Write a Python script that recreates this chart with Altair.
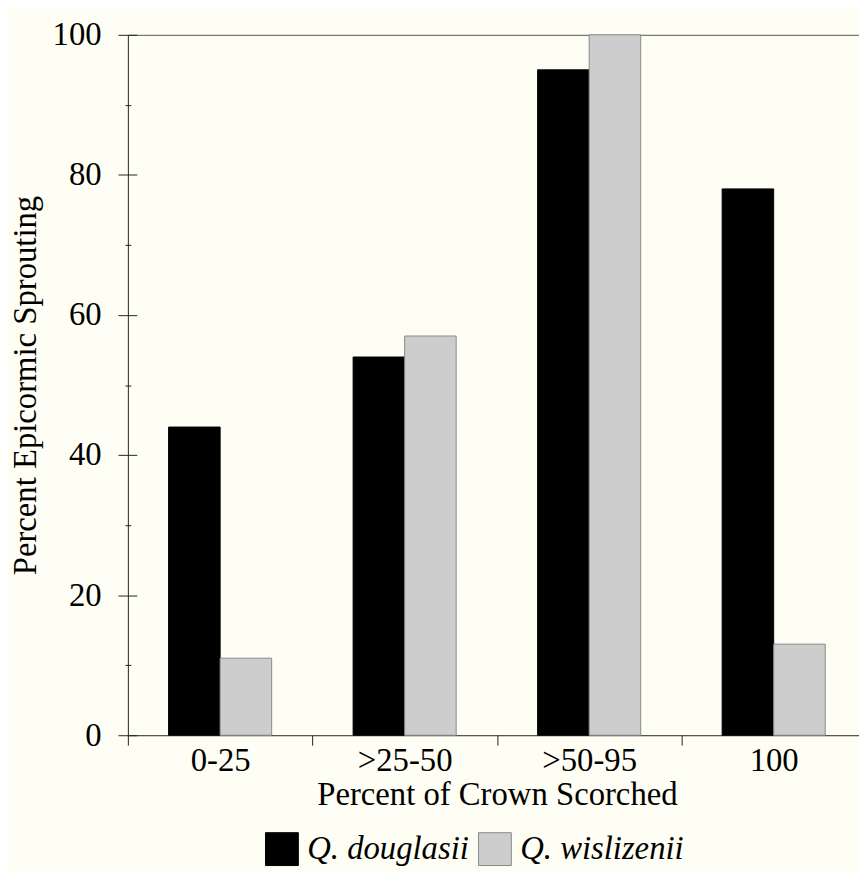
import altair as alt
import pandas as pd

categories = ["0-25", ">25-50", ">50-95", "100"]
species = ["Q. douglasii", "Q. wislizenii"]
douglasii = [44, 54, 95, 78]
wislizenii = [11, 57, 100, 13]
major_ticks = [0, 20, 40, 60, 80, 100]
minor_ticks = [10, 30, 50, 70, 90]

rows = []
for c, d, w in zip(categories, douglasii, wislizenii):
    rows.append({"crown": c, "species": species[0], "value": d})
    rows.append({"crown": c, "species": species[1], "value": w})
df = pd.DataFrame(rows)

FONT = "Liberation Serif"
BG = "#fffef4"
INK = "#222222"
FS = 33

x_scale = alt.Scale(domain=categories, range=[0, 745], paddingInner=0, paddingOuter=0)
xo_scale = alt.Scale(domain=species, paddingInner=0, paddingOuter=0.79)
y_scale = alt.Scale(domain=[0, 100], nice=False, zero=True)

x_enc_none = alt.X("crown:N", sort=categories, scale=x_scale, axis=None)
xo_enc = alt.XOffset("species:N", sort=species, scale=xo_scale)

bars = alt.Chart(df).mark_bar(strokeWidth=1).encode(
    x=alt.X(
        "crown:N", sort=categories, scale=x_scale,
        axis=alt.Axis(orient="bottom", title="Percent of Crown Scorched",
                      tickBand="extent", tickSize=10, labelPadding=0,
                      labelAngle=0, titlePadding=1, domainColor=INK,
                      tickColor=INK),
    ),
    xOffset=xo_enc,
    y=alt.Y(
        "value:Q", scale=y_scale,
        axis=alt.Axis(orient="left", values=major_ticks, tickSize=10,
                      labelPadding=17, title="Percent Epicormic Sprouting",
                      titlePadding=10, grid=False, domainColor=INK,
                      tickColor=INK),
    ),
    color=alt.Color(
        "species:N", sort=species,
        scale=alt.Scale(domain=species, range=["#000000", "#cdcdcd"]),
        legend=alt.Legend(
            orient="none", legendX=138, legendY=804, direction="horizontal",
            title=None, symbolType="square", symbolSize=1100,
            symbolStrokeColor="#888888", symbolStrokeWidth=1,
            labelFontStyle="italic", labelFontSize=FS, labelFont=FONT,
            labelColor="#000000", labelOffset=8, labelLimit=500,
            columnPadding=6, padding=0,
        ),
    ),
    stroke=alt.Stroke(
        "species:N", sort=species,
        scale=alt.Scale(domain=species, range=["#000000", "#8a8a8a"]),
        legend=None,
    ),
)

inner_major = alt.Chart(df).mark_bar(opacity=0).encode(
    x=x_enc_none,
    xOffset=xo_enc,
    y=alt.Y("value:Q", scale=y_scale,
            axis=alt.Axis(orient="left", values=major_ticks, tickSize=9,
                          offset=-9, domain=False, labels=False, title=None,
                          grid=False, tickColor=INK)),
)

minor = alt.Chart(df).mark_bar(opacity=0).encode(
    x=x_enc_none,
    xOffset=xo_enc,
    y=alt.Y("value:Q", scale=y_scale,
            axis=alt.Axis(orient="left", values=minor_ticks, tickSize=6,
                          offset=-3, domain=False, labels=False, title=None,
                          grid=False, tickColor=INK)),
)

top_border = alt.Chart(df).mark_bar(opacity=0).encode(
    x=alt.X("crown:N", sort=categories, scale=x_scale,
            axis=alt.Axis(orient="top", domain=True, ticks=False,
                          labels=False, title=None, domainColor="#555555")),
    xOffset=xo_enc,
    y=alt.Y("value:Q", scale=y_scale, axis=None),
)

chart = (
    alt.layer(bars, inner_major, minor, top_border)
    .resolve_axis(x="independent", y="independent")
    .properties(
        width=738, height=707,
        padding={"left": 121, "top": 23, "right": 0, "bottom": 134},
        autosize=alt.AutoSizeParams(type="none"),
        background=BG,
    )
    .configure_view(stroke=None)
    .configure_axis(
        labelFont=FONT, titleFont=FONT, labelFontSize=FS, titleFontSize=FS,
        labelColor="#000000", titleColor="#000000", titleFontWeight="normal",
    )
)

chart.save("out.html", embed_options={"renderer": "svg", "actions": False})
